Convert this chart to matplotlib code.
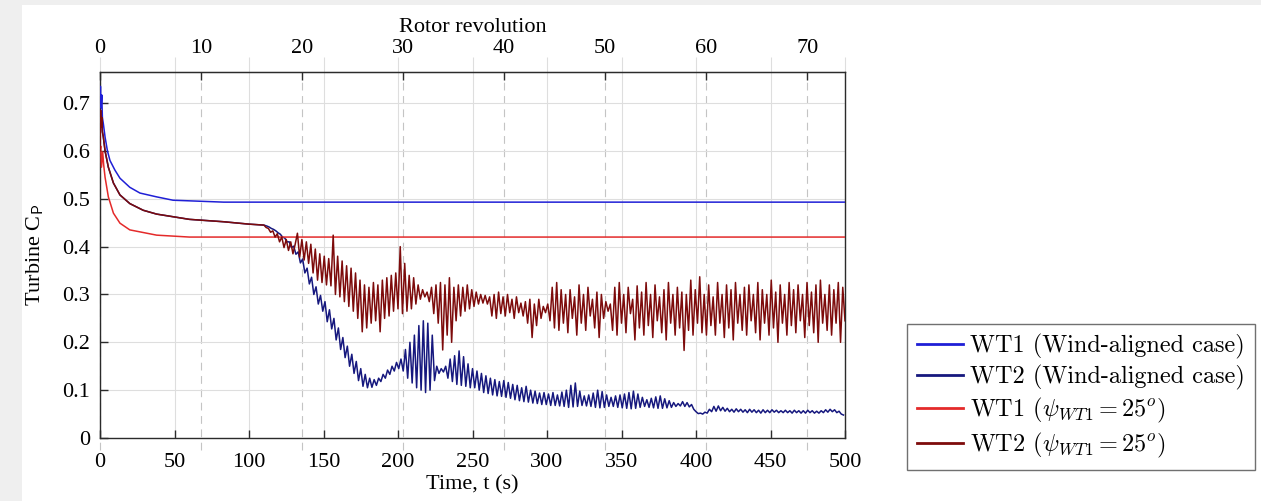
import numpy as np
import matplotlib
matplotlib.use('Agg')
import matplotlib.pyplot as plt
from matplotlib.patches import Rectangle

# ---------------- data ----------------
sec_per_rev = 6.78

# WT1, wind-aligned
t_wt1_al = [0, 0.3, 0.7, 1.2, 1.6, 2.2, 3.4, 5, 6.7, 10, 13.4, 20, 26.8, 38, 49, 83,
            150, 250, 350, 450, 500]
cp_wt1_al = [0.70, 0.735, 0.69, 0.717, 0.67, 0.658, 0.629, 0.60, 0.58, 0.56, 0.543,
             0.524, 0.512, 0.504, 0.497, 0.493, 0.493, 0.493, 0.493, 0.493, 0.493]

# WT1, yawed 25 deg
t_wt1_yaw = [0, 0.5, 1, 1.8, 2.5, 3.4, 5.6, 9, 13.4, 20, 38, 60, 150, 300, 500]
cp_wt1_yaw = [0.60, 0.61, 0.566, 0.598, 0.57, 0.545, 0.504, 0.47, 0.449, 0.435,
              0.424, 0.42, 0.42, 0.42, 0.42]

# WT2 (both cases) smooth start-up part
t_wt2_early = [0, 0.4, 0.8, 1.2, 1.6, 2.2, 3.4, 5.6, 9, 13.4, 20, 29, 38, 60, 83,
               100, 105, 110]
cp_wt2_al_early = [0.60, 0.685, 0.65, 0.67, 0.64, 0.63, 0.60, 0.566, 0.533, 0.508,
                   0.49, 0.476, 0.468, 0.457, 0.452, 0.447, 0.446, 0.445]
cp_wt2_yaw_early = [0.60, 0.685, 0.65, 0.67, 0.64, 0.63, 0.60, 0.566, 0.533, 0.508,
                    0.49, 0.476, 0.468, 0.457, 0.452, 0.447, 0.446, 0.445]

# WT2, wind-aligned: sampled every 1.5 s from t = 112 s to 499 s
t_wt2_al_start, t_wt2_al_end = 112, 499
cp_wt2_al_osc = [
    .443, .441, .438, .436, .433, .429, .426, .420, .418, .410,
    .410, .398, .401, .384, .389, .366, .374, .345, .355, .322,
    .336, .300, .316, .280, .298, .265, .285, .243, .268, .228,
    .250, .205, .230, .185, .210, .168, .192, .150, .175, .135,
    .160, .120, .145, .108, .133, .105, .125, .106, .122, .110,
    .125, .118, .133, .125, .142, .133, .150, .140, .158, .145,
    .165, .140, .185, .125, .200, .115, .215, .105, .235, .100,
    .245, .095, .240, .100, .215, .120, .150, .135, .145, .138,
    .150, .125, .165, .118, .172, .112, .182, .110, .170, .108,
    .155, .105, .145, .105, .140, .100, .135, .095, .130, .093,
    .125, .090, .122, .088, .118, .087, .120, .085, .116, .083,
    .112, .080, .110, .078, .105, .076, .108, .075, .100, .073,
    .098, .072, .094, .070, .095, .070, .092, .068, .095, .068,
    .090, .067, .096, .066, .100, .064, .110, .065, .115, .066,
    .098, .068, .088, .067, .090, .066, .094, .064, .100, .063,
    .097, .064, .090, .066, .085, .066, .088, .064, .090, .063,
    .092, .062, .095, .061, .098, .062, .092, .064, .085, .066,
    .080, .064, .083, .063, .086, .062, .088, .062, .082, .063,
    .078, .064, .074, .066, .072, .067, .076, .066, .074, .065,
    .070, .060, .055, .051, .052, .050, .054, .052, .060, .055,
    .066, .056, .067, .057, .064, .056, .062, .055, .060, .054,
    .061, .055, .060, .054, .059, .053, .060, .054, .059, .053,
    .058, .052, .059, .053, .058, .053, .059, .054, .058, .053,
    .057, .053, .058, .053, .057, .052, .058, .053, .057, .052,
    .057, .052, .058, .053, .057, .052, .056, .052, .057, .053,
    .059, .054, .060, .055, .059, .053, .056, .050, .048]

# WT2, WT1 yawed 25 deg: sampled every 1.5 s from t = 110 s to 500 s
t_wt2_yaw_start, t_wt2_yaw_end = 110, 500
cp_wt2_yaw_osc = [
    .445, .440, .438, .430, .433, .420, .427, .410, .420, .398,
    .415, .392, .410, .385, .405, .428, .378, .415, .372, .410,
    .365, .405, .345, .395, .330, .385, .325, .380, .320, .375,
    .318, .424, .300, .380, .295, .370, .285, .360, .275, .355,
    .265, .345, .250, .330, .222, .320, .230, .315, .240, .325,
    .245, .320, .222, .330, .250, .335, .255, .340, .265, .345,
    .270, .400, .260, .365, .265, .340, .270, .335, .280, .320,
    .290, .310, .295, .305, .285, .315, .260, .320, .240, .325,
    .184, .320, .215, .335, .200, .315, .245, .320, .255, .315,
    .265, .320, .270, .310, .275, .305, .280, .300, .282, .298,
    .280, .295, .255, .300, .250, .305, .260, .295, .255, .300,
    .262, .290, .250, .295, .262, .282, .255, .285, .240, .290,
    .210, .280, .235, .290, .250, .275, .262, .280, .245, .315,
    .230, .325, .225, .310, .240, .300, .220, .310, .250, .295,
    .215, .320, .240, .300, .225, .315, .255, .290, .230, .305,
    .210, .300, .250, .285, .265, .280, .225, .315, .215, .325,
    .240, .300, .220, .315, .260, .290, .205, .318, .230, .305,
    .215, .325, .235, .300, .210, .320, .245, .295, .220, .310,
    .205, .325, .240, .300, .215, .315, .230, .305, .183, .300,
    .225, .330, .215, .310, .240, .337, .220, .300, .215, .320,
    .235, .295, .215, .325, .240, .300, .210, .320, .230, .310,
    .205, .325, .240, .300, .225, .315, .215, .320, .245, .300,
    .220, .325, .205, .310, .240, .300, .215, .330, .230, .305,
    .200, .320, .240, .300, .215, .325, .235, .310, .220, .320,
    .245, .300, .210, .325, .235, .305, .220, .320, .200, .330,
    .240, .300, .225, .320, .215, .310, .240, .325, .200, .315,
    .245]

series_labels = ['WT1 (Wind-aligned case)', 'WT2 (Wind-aligned case)',
                 r'WT1 ($\psi_{WT1}=25^o$)', r'WT2 ($\psi_{WT1}=25^o$)']
series_colors = ['#1f1fd6', '#16187e', '#e42a2a', '#7d0b0b']

time_ticks = [0, 50, 100, 150, 200, 250, 300, 350, 400, 450, 500]
rev_ticks = [0, 10, 20, 30, 40, 50, 60, 70]
cp_ticks = [0, 0.1, 0.2, 0.3, 0.4, 0.5, 0.6, 0.7]
cp_tick_labels = ['0', '0.1', '0.2', '0.3', '0.4', '0.5', '0.6', '0.7']

# ---------------- figure ----------------
plt.rcParams['mathtext.fontset'] = 'cm'
serif = 'Liberation Serif'

W, H = 1261, 501
fig = plt.figure(figsize=(W / 100, H / 100), dpi=100, facecolor='#efefef')
fig.patches.append(Rectangle((22 / W, 0), 1, 1 - 5 / H, transform=fig.transFigure,
                             facecolor='white', edgecolor='none', zorder=-10))

ax = fig.add_axes([100 / W, 1 - 438 / H, 745 / W, 366 / H])
ax.set_xlim(0, 500)
ax.set_ylim(0, 0.765)

# assemble series
t_wt2_al = np.concatenate([t_wt2_early,
                           np.linspace(t_wt2_al_start, t_wt2_al_end, len(cp_wt2_al_osc))])
cp_wt2_al = np.concatenate([cp_wt2_al_early, cp_wt2_al_osc])
t_wt2_yaw = np.concatenate([t_wt2_early,
                            np.linspace(t_wt2_yaw_start, t_wt2_yaw_end, len(cp_wt2_yaw_osc))])
cp_wt2_yaw = np.concatenate([cp_wt2_yaw_early, cp_wt2_yaw_osc])

series = [(t_wt1_al, cp_wt1_al), (t_wt2_al, cp_wt2_al),
          (t_wt1_yaw, cp_wt1_yaw), (t_wt2_yaw, cp_wt2_yaw)]
handles = []
for (tt, cc), lab, col in zip(series, series_labels, series_colors):
    h, = ax.plot(tt, cc, color=col, lw=1.1, label=lab, zorder=3)
    handles.append(h)

# grids
ymin, ymax = ax.get_ylim()
ax.yaxis.grid(True, color='#dedede', lw=0.8, zorder=0)
ax.vlines(time_ticks, ymin, ymax + 15 / 478.6, colors='#dedede', lw=0.8,
          clip_on=False, zorder=0)
ax.vlines([r * sec_per_rev for r in rev_ticks], ymin - 12 / 478.6, ymax,
          colors='#c4c4c4', lw=0.8, linestyles=(0, (7, 5)), clip_on=False, zorder=0)
ax.set_axisbelow(True)

# axes styling
for sp in ax.spines.values():
    sp.set_color('#2b2b2b')
    sp.set_linewidth(1.0)
ax.set_xticks(time_ticks)
ax.set_xticklabels([str(v) for v in time_ticks], fontfamily=serif, fontsize=16)
ax.set_yticks(cp_ticks)
ax.set_yticklabels(cp_tick_labels, fontfamily=serif, fontsize=16)
ax.tick_params(axis='x', direction='in', length=6, width=1, color='#2b2b2b', pad=11)
ax.tick_params(axis='y', direction='in', length=6, width=1, color='#2b2b2b', pad=7)
ax.set_xlabel('Time, t (s)', fontfamily=serif, fontsize=16, labelpad=2)
ax.set_ylabel(r'Turbine C$_{\mathsf{P}}$', fontfamily=serif, fontsize=16, labelpad=12)

sec = ax.secondary_xaxis('top', functions=(lambda t: t / sec_per_rev,
                                           lambda r: r * sec_per_rev))
sec.set_xticks(rev_ticks)
sec.set_xticklabels([str(v) for v in rev_ticks], fontfamily=serif, fontsize=16)
sec.tick_params(direction='in', length=6, width=1, color='#2b2b2b', pad=10)
sec.spines['top'].set_color('#2b2b2b')
sec.set_xlabel('Rotor revolution', fontfamily=serif, fontsize=16, labelpad=5)

leg = fig.legend(handles=handles, loc='upper left',
                 bbox_to_anchor=(907 / W, 1 - 324 / H),
                 prop={'family': 'cmr10', 'size': 17.5},
                 frameon=True, fancybox=False, edgecolor='#707070', framealpha=1,
                 handlelength=1.9, handletextpad=0.3, labelspacing=0.25,
                 borderpad=0.4, borderaxespad=0)
leg.get_frame().set_linewidth(1.0)
for ln in leg.get_lines():
    ln.set_linewidth(2.0)

fig.savefig('out.png', dpi=100, facecolor=fig.get_facecolor())
